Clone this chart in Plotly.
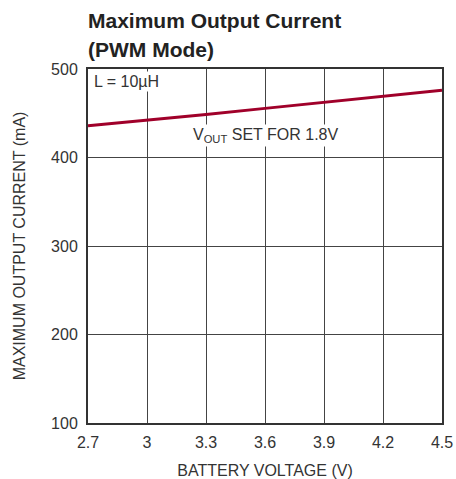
import plotly.graph_objects as go

voltage = [2.7, 3.0, 3.3, 3.6, 3.9, 4.2, 4.5]
current = [436, 442, 448.5, 455.5, 462.5, 469, 476]

x_ticks = [2.7, 3.0, 3.3, 3.6, 3.9, 4.2, 4.5]
x_labels = ["2.7", "3", "3.3", "3.6", "3.9", "4.2", "4.5"]
y_ticks = [100, 200, 300, 400, 500]

FONT = "Liberation Sans, Arial, sans-serif"

fig = go.Figure()
fig.add_trace(go.Scatter(x=voltage, y=current, mode="lines",
                         line=dict(color="#a0002a", width=3), showlegend=False))

fig.update_layout(
    width=456, height=479,
    margin=dict(l=88, r=14, t=69, b=56),
    paper_bgcolor="white", plot_bgcolor="white",
    font=dict(family=FONT, size=16, color="#333"),
    xaxis=dict(range=[2.7, 4.5], tickvals=x_ticks, ticktext=x_labels,
               showgrid=True, gridcolor="#444", gridwidth=1,
               showline=True, linecolor="#333", linewidth=2, mirror=True,
               ticks="", zeroline=False, automargin=False, ticklabelstandoff=4,
               title=dict(text="BATTERY VOLTAGE (V)", font=dict(size=16), standoff=21)),
    yaxis=dict(range=[100, 500], tickvals=y_ticks,
               showgrid=True, gridcolor="#444", gridwidth=1,
               showline=True, linecolor="#333", linewidth=2, mirror=True,
               ticks="", zeroline=False, automargin=False, ticklabelstandoff=5,
               title=dict(text="MAXIMUM OUTPUT CURRENT (mA)", font=dict(size=16), standoff=21)),
)

fig.add_annotation(x=0, y=1, xref="paper", yref="paper", xshift=-2, yshift=62,
                   text="<b>Maximum Output Current</b>", showarrow=False,
                   xanchor="left", yanchor="top",
                   font=dict(size=21, color="#222"))
fig.add_annotation(x=0, y=1, xref="paper", yref="paper", xshift=-2, yshift=33,
                   text="<b>(PWM Mode)</b>", showarrow=False,
                   xanchor="left", yanchor="top",
                   font=dict(size=21, color="#222"))
fig.add_annotation(x=0.012, y=0.993, xref="paper", yref="paper",
                   text="L = 10µH", showarrow=False, xanchor="left", yanchor="top",
                   font=dict(size=16, color="#333"), bgcolor="white")
fig.add_annotation(x=3.6, y=425, xref="x", yref="y",
                   text="V<sub>OUT</sub> SET FOR 1.8V", showarrow=False,
                   xanchor="center", yanchor="middle",
                   font=dict(size=16, color="#333"), bgcolor="white")

fig.write_html("out.html",
               config={"displayModeBar": False},
               post_script="document.body.style.margin='0';document.body.style.overflow='hidden';")
